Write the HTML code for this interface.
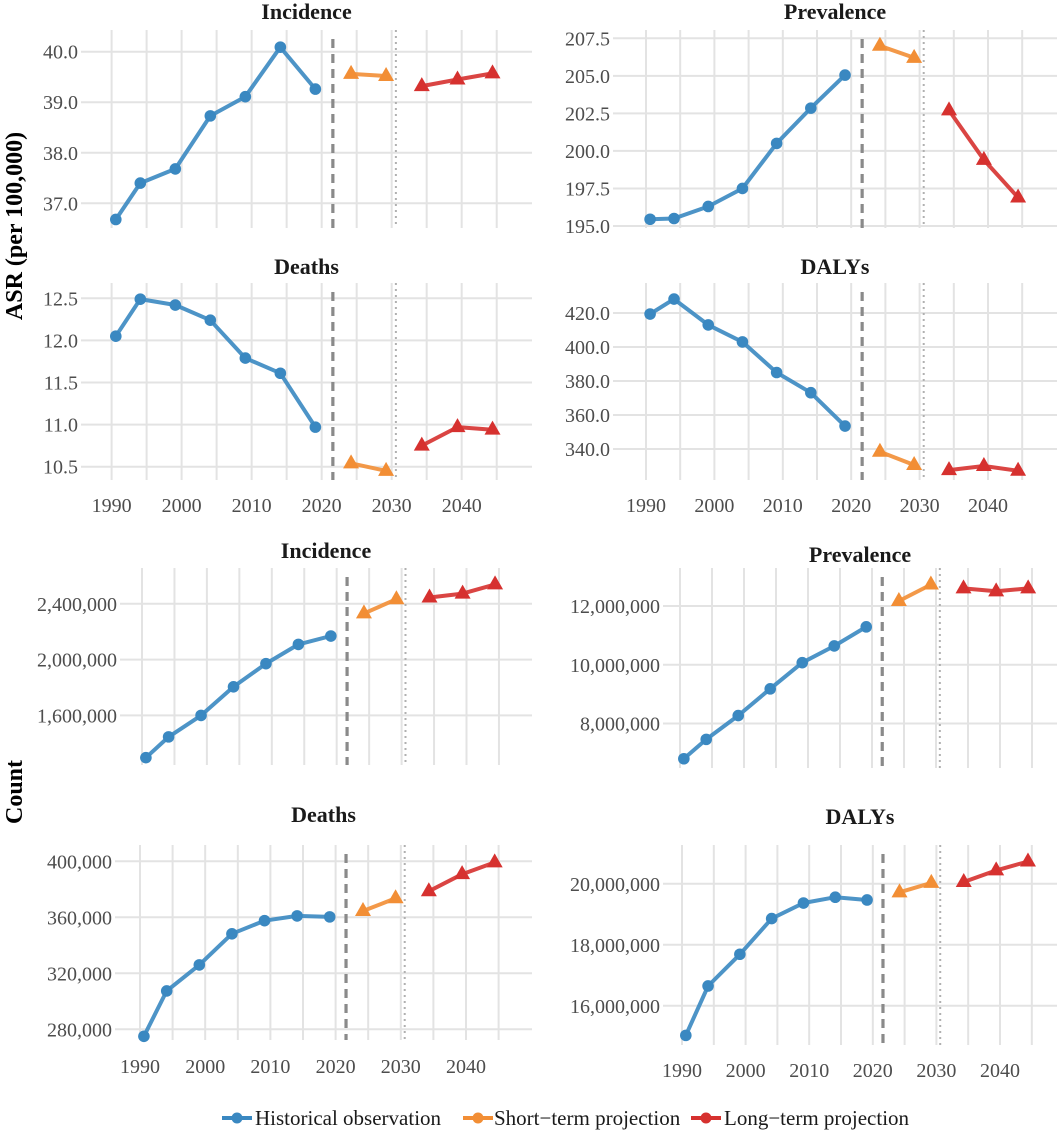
<!DOCTYPE html>
<html><head><meta charset="utf-8">
<style>
html,body{margin:0;padding:0;background:#fff;}
svg{display:block;}
svg text{font-family:"Liberation Serif","DejaVu Serif",serif;}
.tick{font-size:20px;fill:#4d4d4d;}
.title{font-size:22px;font-weight:bold;fill:#1a1a1a;}
.leg{font-size:21px;fill:#1a1a1a;}
</style></head>
<body>
<svg id="chart" width="1064" height="1133" viewBox="0 0 1064 1133" xmlns="http://www.w3.org/2000/svg"></svg>
<script>
// ---- data ----
const histYears = [1990.6, 1994.1, 1999.1, 2004.1, 2009.1, 2014.1, 2019.1];
const shortYears = [2024.2, 2029.2];
const longYears = [2034.3, 2039.4, 2044.4];
const xTicks = [1990, 2000, 2010, 2020, 2030, 2040];
const cutShort = 2021.6;
const cutLong = 2030.6;

const asrIncHist = [36.68, 37.40, 37.68, 38.73, 39.11, 40.09, 39.26];
const asrIncShort = [39.56, 39.52];
const asrIncLong = [39.32, 39.45, 39.57];
const asrIncTicks = [37.0, 38.0, 39.0, 40.0];

const asrPrevHist = [195.45, 195.5, 196.3, 197.5, 200.5, 202.85, 205.05];
const asrPrevShort = [207.0, 206.2];
const asrPrevLong = [202.7, 199.4, 196.9];
const asrPrevTicks = [195.0, 197.5, 200.0, 202.5, 205.0, 207.5];

const asrDeathHist = [12.05, 12.49, 12.42, 12.24, 11.79, 11.61, 10.97];
const asrDeathShort = [10.54, 10.45];
const asrDeathLong = [10.75, 10.97, 10.94];
const asrDeathTicks = [10.5, 11.0, 11.5, 12.0, 12.5];

const asrDalyHist = [419.4, 428.2, 413, 403, 385, 373.1, 353.5];
const asrDalyShort = [338.4, 330.6];
const asrDalyLong = [327.6, 330.0, 327.2];
const asrDalyTicks = [340, 360, 380, 400, 420];

const cntIncHist = [1297000, 1446000, 1600000, 1805000, 1971000, 2109000, 2169000];
const cntIncShort = [2331000, 2433000];
const cntIncLong = [2445000, 2473000, 2539000];
const cntIncTicks = [1600000, 2000000, 2400000];

const cntPrevHist = [6800000, 7460000, 8270000, 9180000, 10070000, 10640000, 11290000];
const cntPrevShort = [12170000, 12730000];
const cntPrevLong = [12600000, 12500000, 12600000];
const cntPrevTicks = [8000000, 10000000, 12000000];

const cntDeathHist = [275000, 307400, 326000, 348200, 357600, 361000, 360300];
const cntDeathShort = [364500, 373600];
const cntDeathLong = [378600, 390800, 399200];
const cntDeathTicks = [280000, 320000, 360000, 400000];

const cntDalyHist = [15030000, 16650000, 17690000, 18860000, 19370000, 19560000, 19470000];
const cntDalyShort = [19720000, 20030000];
const cntDalyLong = [20060000, 20440000, 20730000];
const cntDalyTicks = [16000000, 18000000, 20000000];

// ---- layout ----
const NS = "http://www.w3.org/2000/svg";
const svg = document.getElementById('chart');
const C = {hist:'#3a88c1', short:'#f28e35', long:'#d6312f'};
const FONT = '"Liberation Serif","DejaVu Serif",serif';
function mk(tag, attrs, parent){
  const e = document.createElementNS(NS, tag);
  for (const k in attrs) e.setAttribute(k, attrs[k]);
  if (tag === 'text') e.setAttribute('font-family', FONT);
  (parent||svg).appendChild(e);
  return e;
}
function fmtComma(v){ return Math.round(v).toLocaleString('en-US'); }
function fmt1(v){ return v.toFixed(1); }

function panel(cfg){
  const g = mk('g', {});
  
  
  const sx = (cfg.x2040 - cfg.x1990) / 50;
  const X = yr => cfg.x1990 + (yr - 1990) * sx;
  const sy = (cfg.yB - cfg.yA) / (cfg.vB - cfg.vA);
  const Y = v => cfg.yA + (v - cfg.vA) * sy;
  for (let yr = 1990; yr <= 2045; yr += 5){
    const l = mk('line', {x1:X(yr), x2:X(yr), y1:cfg.top, y2:cfg.bottom, stroke:'#e3e3e3', 'stroke-width':2}, g);
    
    
  }
  cfg.ticks.forEach(t => {
    const l = mk('line', {x1:cfg.left, x2:cfg.right, y1:Y(t), y2:Y(t), stroke:'#e3e3e3', 'stroke-width':2}, g);
    
    
    const tx = mk('text', {x:cfg.left - 3, y:Y(t) + 7, 'text-anchor':'end', class:'tick'}, g);
    tx.textContent = cfg.fmt(t);
    
    
  });
  if (cfg.xlab){
    xTicks.forEach(t => {
      const tx = mk('text', {x:X(t), y:cfg.xlab + 7, 'text-anchor':'middle', class:'tick'}, g);
      tx.textContent = t;
      
      
    });
  }
  const ti = mk('text', {x:(cfg.left + cfg.right) / 2, y:cfg.titleY + 7, 'text-anchor':'middle', class:'title'}, g);
  ti.textContent = cfg.title;
  
  
  const d1 = mk('line', {x1:X(cutShort), x2:X(cutShort), y1:cfg.top + 9, y2:cfg.bottom, stroke:'#8a8a8a', 'stroke-width':3.2, 'stroke-dasharray':'9 6'}, g);
  
  
  const d2 = mk('line', {x1:X(cutLong), x2:X(cutLong), y1:cfg.top, y2:cfg.bottom, stroke:'#b0b0b0', 'stroke-width':2, 'stroke-dasharray':'2 4'}, g);
  
  
  const series = [
    {yrs:histYears, vals:cfg.hist, col:C.hist, shape:'circle', n:'historical'},
    {yrs:shortYears, vals:cfg.short, col:C.short, shape:'tri', n:'short-term'},
    {yrs:longYears, vals:cfg.long, col:C.long, shape:'tri', n:'long-term'}
  ];
  series.forEach(s => {
    const pts = s.yrs.map((yr, i) => X(yr).toFixed(1) + ',' + Y(s.vals[i]).toFixed(1)).join(' ');
    const pl = mk('polyline', {points:pts, fill:'none', stroke:s.col, 'stroke-width':4, 'stroke-opacity':0.9, 'stroke-linejoin':'round'}, g);
    
    
    s.yrs.forEach((yr, i) => {
      const cx = X(yr), cy = Y(s.vals[i]);
      let m;
      if (s.shape === 'circle'){
        m = mk('circle', {cx:cx, cy:cy, r:5.8, fill:s.col}, g);
      } else {
        m = mk('polygon', {points:`${cx-8},${cy+5} ${cx+8},${cy+5} ${cx},${cy-9}`, fill:s.col}, g);
      }
      
      
    });
  });
}

panel({name:'asr-incidence-panel', title:'Incidence', left:81, right:532, x1990:111.6, x2040:461.7, top:30, bottom:228, titleY:12,
  vA:40, yA:51.7, vB:37, yB:203.3, ticks:asrIncTicks, fmt:fmt1, hist:asrIncHist, short:asrIncShort, long:asrIncLong});
panel({name:'asr-prevalence-panel', title:'Prevalence', left:613, right:1057, x1990:646, x2040:988, top:30, bottom:228, titleY:12,
  vA:207.5, yA:38.3, vB:195, yB:226, ticks:asrPrevTicks, fmt:fmt1, hist:asrPrevHist, short:asrPrevShort, long:asrPrevLong});
panel({name:'asr-deaths-panel', title:'Deaths', left:81, right:532, x1990:111.6, x2040:461.7, top:283, bottom:480, titleY:267, xlab:505,
  vA:12.5, yA:298.3, vB:10.5, yB:466.7, ticks:asrDeathTicks, fmt:fmt1, hist:asrDeathHist, short:asrDeathShort, long:asrDeathLong});
panel({name:'asr-dalys-panel', title:'DALYs', left:613, right:1057, x1990:646, x2040:988, top:283, bottom:480, titleY:267, xlab:505,
  vA:420, yA:313, vB:340, yB:449, ticks:asrDalyTicks, fmt:fmt1, hist:asrDalyHist, short:asrDalyShort, long:asrDalyLong});
panel({name:'count-incidence-panel', title:'Incidence', left:120, right:532, x1990:142, x2040:466.5, top:568, bottom:765, titleY:551,
  vA:2400000, yA:603.8, vB:1600000, yB:715.4, ticks:cntIncTicks, fmt:fmtComma, hist:cntIncHist, short:cntIncShort, long:cntIncLong});
panel({name:'count-prevalence-panel', title:'Prevalence', left:663, right:1057, x1990:680, x2040:1000, top:568, bottom:768, titleY:555,
  vA:12000000, yA:606, vB:8000000, yB:723.5, ticks:cntPrevTicks, fmt:fmtComma, hist:cntPrevHist, short:cntPrevShort, long:cntPrevLong});
panel({name:'count-deaths-panel', title:'Deaths', left:115, right:532, x1990:140, x2040:466, top:845, bottom:1040, titleY:815, xlab:1066,
  vA:400000, yA:861.3, vB:280000, yB:1029.3, ticks:cntDeathTicks, fmt:fmtComma, hist:cntDeathHist, short:cntDeathShort, long:cntDeathLong});
panel({name:'count-dalys-panel', title:'DALYs', left:663, right:1057, x1990:682, x2040:1000, top:845, bottom:1045, titleY:817, xlab:1070,
  vA:20000000, yA:883.8, vB:16000000, yB:1005.8, ticks:cntDalyTicks, fmt:fmtComma, hist:cntDalyHist, short:cntDalyShort, long:cntDalyLong});

const at1 = mk('text', {x:0, y:0, transform:'translate(22,226) rotate(-90)', 'text-anchor':'middle', 'font-size':24, 'font-weight':'bold', fill:'#000'});
at1.textContent = 'ASR (per 100,000)';


const at2 = mk('text', {x:0, y:0, transform:'translate(22,792) rotate(-90)', 'text-anchor':'middle', 'font-size':24, 'font-weight':'bold', fill:'#000'});
at2.textContent = 'Count';



const legItems = [
  {label:'Historical observation', col:C.hist, k0:222, t:255, n:'legend-historical'},
  {label:'Short\u2212term projection', col:C.short, k0:463, t:494, n:'legend-short-term'},
  {label:'Long\u2212term projection', col:C.long, k0:691, t:724, n:'legend-long-term'}
];
legItems.forEach(it => {
  const g = mk('g', {});
  
  
  mk('line', {x1:it.k0, x2:it.k0 + 30, y1:1118, y2:1118, stroke:it.col, 'stroke-width':4}, g);
  mk('circle', {cx:it.k0 + 15, cy:1118, r:5.5, fill:it.col}, g);
  const t = mk('text', {x:it.t, y:1125, class:'leg'}, g);
  t.textContent = it.label;
});
</script>
</body></html>
